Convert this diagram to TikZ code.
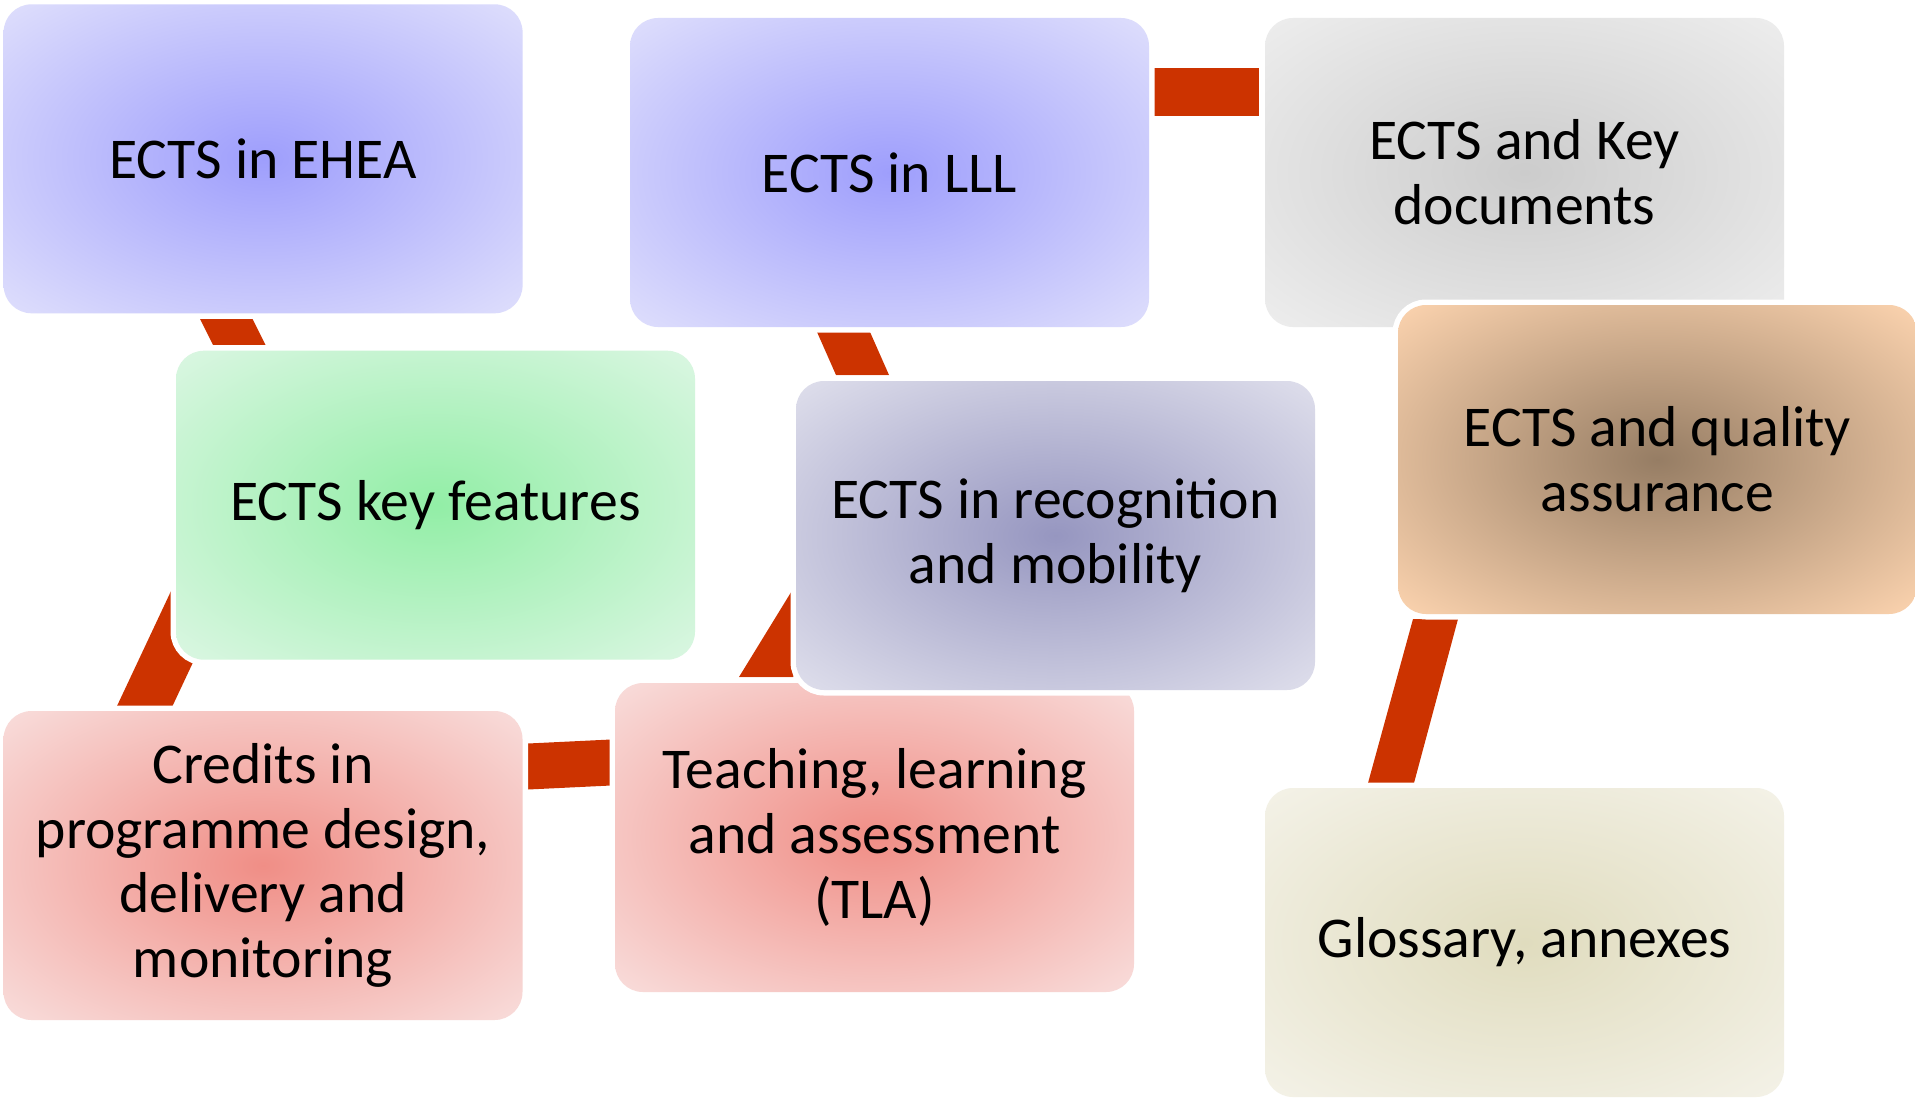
\documentclass[tikz,border=0pt]{standalone}
\usepackage{fontspec}
\setmainfont{Carlito}
\usetikzlibrary{calc}

\definecolor{connred}{RGB}{204,51,0}
\definecolor{blueIn}{RGB}{158,158,252}
\definecolor{blueOut}{RGB}{220,220,252}
\definecolor{grayIn}{RGB}{204,204,204}
\definecolor{grayOut}{RGB}{236,236,236}
\definecolor{greenIn}{RGB}{146,238,166}
\definecolor{greenOut}{RGB}{216,246,224}
\definecolor{slateIn}{RGB}{150,150,192}
\definecolor{slateOut}{RGB}{220,220,234}
\definecolor{tanIn}{RGB}{150,125,100}
\definecolor{tanOut}{RGB}{248,208,172}
\definecolor{pinkIn}{RGB}{240,142,134}
\definecolor{pinkOut}{RGB}{248,218,216}
\definecolor{beigeIn}{RGB}{224,220,190}
\definecolor{beigeOut}{RGB}{243,241,230}

\pgfdeclareradialshading{shBlue}{\pgfpointorigin}{color(0bp)=(blueIn); color(34bp)=(blueOut); color(50bp)=(blueOut)}
\pgfdeclareradialshading{shGray}{\pgfpointorigin}{color(0bp)=(grayIn); color(34bp)=(grayOut); color(50bp)=(grayOut)}
\pgfdeclareradialshading{shGreen}{\pgfpointorigin}{color(0bp)=(greenIn); color(34bp)=(greenOut); color(50bp)=(greenOut)}
\pgfdeclareradialshading{shSlate}{\pgfpointorigin}{color(0bp)=(slateIn); color(34bp)=(slateOut); color(50bp)=(slateOut)}
\pgfdeclareradialshading{shTan}{\pgfpointorigin}{color(0bp)=(tanIn); color(34bp)=(tanOut); color(50bp)=(tanOut)}
\pgfdeclareradialshading{shPink}{\pgfpointorigin}{color(0bp)=(pinkIn); color(34bp)=(pinkOut); color(50bp)=(pinkOut)}
\pgfdeclareradialshading{shBeige}{\pgfpointorigin}{color(0bp)=(beigeIn); color(34bp)=(beigeOut); color(50bp)=(beigeOut)}

\pgfdeclarelayer{bg}
\pgfsetlayers{bg,main}

\tikzset{
  box/.style={rounded corners=14pt, minimum width=259.5pt, minimum height=154.5pt,
    inner sep=0pt, outer sep=0pt, align=center, text=black,
    font=\fontsize{28.85}{32.4}\selectfont,
    preaction={draw=white, line width=5.5pt}, shade},
  conn/.style={fill=connred},
}

\begin{document}
\begin{tikzpicture}[x=0.5pt,y=-0.5pt]
\useasboundingbox (0,0) rectangle (1915,1097);

\node[box, shading=shBlue]  (ehea)    at (263.1,158.8) {ECTS in EHEA};
\node[box, shading=shBlue]  (lll)     at (889.5,172.5) {ECTS in LLL};
\node[box, shading=shGray]  (keydocs) at (1524.5,172.5) {ECTS and Key\\documents};
\node[box, shading=shGreen] (keyfeat) at (435.5,505.2) {ECTS key features};
\node[box, shading=shPink]  (credits) at (263,865.5) {Credits in\\programme design,\\delivery and\\monitoring};
\node[box, shading=shPink]  (tla)     at (874.5,837.5) {Teaching, learning\\and assessment\\(TLA)};
\node[box, shading=shSlate] (recog)   at (1055.5,535.5) {ECTS in recognition\\and mobility};
\node[box, shading=shTan]   (quality) at (1657.5,459.5) {ECTS and quality\\assurance};
\node[box, shading=shBeige] (gloss)   at (1524.5,942.5) {Glossary, annexes};

\begin{pgfonlayer}{bg}
  % EHEA -> key features
  \fill[conn] ($(ehea.south west)+(196.4,5.7)$) -- ++(52.5,0) -- ++(13,26) -- ++(-52.5,0) -- cycle;
  % key features -> credits
  \fill[conn] ($(credits.north west)+(113.5,-5)$) -- ++(55.5,0) -- ++(59.2,-126) -- ++(-55.5,0) -- cycle;
  % credits -> TLA
  \fill[conn] ($(credits.north east)+(5.5,32.5)$) -- ++(83,-4) -- ++(0,46) -- ++(-83,4) -- cycle;
  % TLA -> recognition
  \fill[conn] ($(tla.north west)+(124,-6)$) -- ++(54,0) -- ++(71.8,-117) -- ++(-54,0) -- cycle;
  % LLL -> recognition
  \fill[conn] ($(lll.south west)+(187,5)$) -- ++(53,0) -- ++(19,43) -- ++(-53,0) -- cycle;
  % LLL -> key documents
  \fill[conn] ($(lll.north east)+(5,50)$) rectangle ++(105,48);
  % quality -> glossary
  \fill[conn] ($(gloss.north west)+(103,-5)$) -- ++(46,0) -- ++(44,-164) -- ++(-45,0) -- cycle;
\end{pgfonlayer}
\end{tikzpicture}
\end{document}
